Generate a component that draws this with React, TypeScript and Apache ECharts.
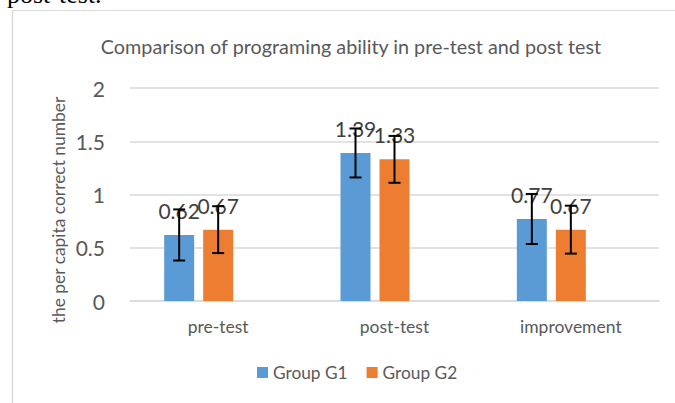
import React, { useEffect, useRef } from "react";
import * as echarts from "echarts";

const categories = ["pre-test", "post-test", "improvement"];
const g1Values = [0.62, 1.39, 0.77];
const g2Values = [0.67, 1.33, 0.67];
const g1Errors = [0.24, 0.23, 0.235];
const g2Errors = [0.22, 0.22, 0.225];
const seriesNames = ["Group G1", "Group G2"];
const yTicks = { min: 0, max: 2, interval: 0.5 };

const BAR_WIDTH = 30;
const BAR_GAP = 0.3;
const FONT = "Lato, 'Noto Sans', sans-serif";

function errorSeries(values: number[], errors: number[], slot: number) {
  const offset = (slot - 1) * BAR_WIDTH * (1 + BAR_GAP);
  return {
    type: "custom",
    z: 10,
    silent: true,
    data: values.map((v, i) => [i, v, errors[i]]),
    renderItem: (params: any, api: any) => {
      const idx = api.value(0);
      const v = api.value(1);
      const e = api.value(2);
      const hi = api.coord([idx, v + e]);
      const lo = api.coord([idx, v - e]);
      const x = hi[0] + offset;
      const cap = 6;
      const style = { stroke: "#000", lineWidth: 2 };
      return {
        type: "group",
        children: [
          { type: "line", shape: { x1: x, y1: hi[1], x2: x, y2: lo[1] }, style },
          { type: "line", shape: { x1: x - cap, y1: hi[1], x2: x + cap, y2: hi[1] }, style },
          { type: "line", shape: { x1: x - cap, y1: lo[1], x2: x + cap, y2: lo[1] }, style },
        ],
      };
    },
  };
}

export default function App() {
  const ref = useRef<HTMLDivElement>(null);
  useEffect(() => {
    if (!ref.current) return;
    const chart = echarts.init(ref.current, null, { renderer: "svg" });
    const label = {
      show: true,
      position: "top",
      distance: 14,
      color: "#404040",
      fontFamily: FONT,
      fontSize: 21,
    };
    chart.setOption({
      animation: false,
      backgroundColor: "#fff",
      title: {
        text: "Comparison of programing ability in pre-test and post test",
        left: 346,
        top: 31,
        textAlign: "center",
        textStyle: { color: "#595959", fontFamily: FONT, fontSize: 19.8, fontWeight: "normal" },
      },
      legend: {
        data: seriesNames,
        left: 257,
        top: 364,
        padding: 0,
        icon: "rect",
        itemWidth: 11,
        itemHeight: 11,
        itemGap: 19,
        textStyle: { color: "#595959", fontFamily: FONT, fontSize: 17.3 },
      },
      grid: { left: 130, right: 16, top: 88, bottom: 102, containLabel: false },
      xAxis: {
        type: "category",
        data: categories,
        axisLine: { lineStyle: { color: "#D9D9D9", width: 1.5 } },
        axisTick: { show: false },
        axisLabel: { color: "#595959", fontFamily: FONT, fontSize: 17.5, margin: 16 },
      },
      yAxis: {
        type: "value",
        min: yTicks.min,
        max: yTicks.max,
        interval: yTicks.interval,
        axisLine: { show: false },
        axisTick: { show: false },
        splitLine: { lineStyle: { color: "#D9D9D9", width: 1.5 } },
        axisLabel: { color: "#595959", fontFamily: FONT, fontSize: 21, margin: 25 },
      },
      graphic: [
        {
          type: "line",
          shape: { x1: 12.5, y1: 10.5, x2: 675, y2: 10.5 },
          style: { stroke: "#D9D9D9", lineWidth: 1 },
        },
        {
          type: "line",
          shape: { x1: 12.5, y1: 10.5, x2: 12.5, y2: 403 },
          style: { stroke: "#D9D9D9", lineWidth: 1.5 },
        },
        {
          type: "text",
          x: 7,
          y: 7,
          style: {
            text: "post-test.",
            fontFamily: "'Liberation Serif', 'Times New Roman', serif",
            fontSize: 26,
            fill: "#000",
            textVerticalAlign: "bottom",
          },
        },
        {
          type: "text",
          x: 58,
          y: 210,
          rotation: Math.PI / 2,
          style: {
            text: "the per capita correct number",
            fontFamily: FONT,
            fontSize: 17.4,
            fill: "#595959",
            textAlign: "center",
            textVerticalAlign: "middle",
          },
        },
      ],
      series: [
        {
          name: seriesNames[0],
          type: "bar",
          data: g1Values,
          barWidth: BAR_WIDTH,
          barGap: `${BAR_GAP * 100}%`,
          itemStyle: { color: "#5B9BD5" },
          label,
        },
        {
          name: seriesNames[1],
          type: "bar",
          data: g2Values,
          barWidth: BAR_WIDTH,
          barGap: `${BAR_GAP * 100}%`,
          itemStyle: { color: "#ED7D31" },
          label,
        },
        {
          name: "",
          type: "bar",
          data: [null, null, null],
          barWidth: BAR_WIDTH,
          barGap: `${BAR_GAP * 100}%`,
        },
        errorSeries(g1Values, g1Errors, 0),
        errorSeries(g2Values, g2Errors, 1),
      ],
    });
    return () => chart.dispose();
  }, []);
  return (
    <div
      ref={ref}
      style={{ position: "fixed", left: 0, top: 0, width: 675, height: 403 }}
    />
  );
}
